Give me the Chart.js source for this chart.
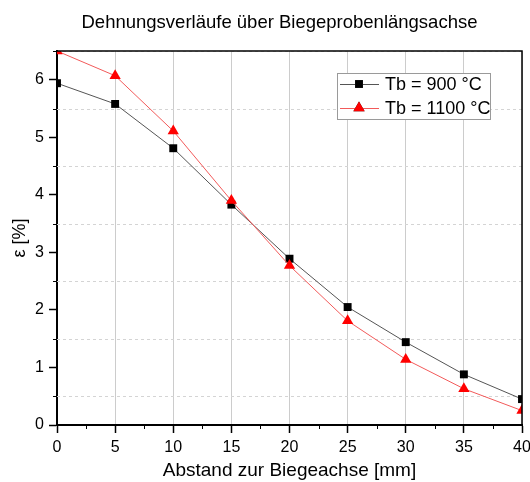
<!DOCTYPE html>
<html>
<head>
<meta charset="utf-8">
<script src="https://cdn.jsdelivr.net/npm/chart.js@4.4.0/dist/chart.umd.min.js"></script>
<style>
  html, body { margin: 0; padding: 0; background: #fff; }
</style>
</head>
<body>
<canvas id="strainChart" width="530" height="482"></canvas>
<script>
// Messpositionen entlang der Probe [mm]
const positions = [0, 5, 10, 15, 20, 25, 30, 35, 40];
// Dehnung [%] je Biegetemperatur
const strain900 = [5.94, 5.58, 4.81, 3.83, 2.89, 2.05, 1.44, 0.88, 0.45];
const strain1100 = [6.5, 6.07, 5.11, 3.90, 2.77, 1.81, 1.14, 0.63, 0.25];
const seriesLabels = ["Tb = 900 °C", "Tb = 1100 °C"];
const chartTitle = "Dehnungsverläufe über Biegeprobenlängsachse";

const xTickValues = [0, 5, 10, 15, 20, 25, 30, 35, 40];
const yTickValues = [0, 1, 2, 3, 4, 5, 6];

const FONT = "'Liberation Sans', Arial, sans-serif";

function toPoints(ys) {
  return positions.map((x, i) => ({ x: x, y: ys[i] }));
}

// Halbwert-Gitter, Nebenstriche, Rahmen, Titel und Legende
const decorations = {
  id: "decorations",
  beforeDatasetsDraw(chart) {
    const { ctx, chartArea: a, scales: { y } } = chart;
    ctx.save();
    ctx.strokeStyle = "#d4d4d4";
    ctx.lineWidth = 1;
    ctx.setLineDash([3, 3]);
    for (let i = 0; i < yTickValues.length; i++) {
      const v = yTickValues[i] + 0.5;
      if (v > y.max) break;
      const py = Math.round(y.getPixelForValue(v)) + 0.5;
      ctx.beginPath();
      ctx.moveTo(a.left, py);
      ctx.lineTo(a.right, py);
      ctx.stroke();
    }
    ctx.restore();
  },
  afterDraw(chart) {
    const { ctx, chartArea: a, scales: { x, y } } = chart;
    ctx.save();
    ctx.strokeStyle = "#000";
    ctx.lineWidth = 1;
    // kleine Striche zwischen den Hauptstrichen
    for (let i = 0; i < xTickValues.length - 1; i++) {
      const px = Math.round(x.getPixelForValue((xTickValues[i] + xTickValues[i + 1]) / 2)) + 0.5;
      ctx.beginPath();
      ctx.moveTo(px, a.bottom);
      ctx.lineTo(px, a.bottom + 4);
      ctx.stroke();
    }
    for (let i = 0; i < yTickValues.length; i++) {
      const v = yTickValues[i] + 0.5;
      if (v > y.max) break;
      const py = Math.round(y.getPixelForValue(v)) + 0.5;
      ctx.beginPath();
      ctx.moveTo(a.left - 4, py);
      ctx.lineTo(a.left, py);
      ctx.stroke();
    }
    // oberer und rechter Rahmen
    ctx.lineWidth = 1.5;
    ctx.beginPath();
    ctx.moveTo(a.left, a.top);
    ctx.lineTo(a.right, a.top);
    ctx.lineTo(a.right, a.bottom);
    ctx.stroke();

    // Titel, leicht links der Diagrammmitte
    ctx.fillStyle = "#000";
    ctx.font = "18.5px " + FONT;
    ctx.textAlign = "center";
    ctx.textBaseline = "alphabetic";
    ctx.fillText(chartTitle, (a.left + a.right) / 2 - 10, 28);

    // Legende
    const bx = a.right - 185, by = a.top + 22, bw = 153, bh = 46;
    ctx.fillStyle = "#fff";
    ctx.fillRect(bx, by, bw, bh);
    ctx.strokeStyle = "#9a9a9a";
    ctx.lineWidth = 1;
    ctx.strokeRect(bx + 0.5, by + 0.5, bw, bh);
    chart.data.datasets.forEach((ds, i) => {
      const cy = by + 11 + i * 24;
      ctx.strokeStyle = ds.borderColor;
      ctx.lineWidth = 1;
      ctx.beginPath();
      ctx.moveTo(bx + 3, cy + 0.5);
      ctx.lineTo(bx + 42, cy + 0.5);
      ctx.stroke();
      Chart.helpers.drawPoint(ctx, {
        pointStyle: ds.pointStyle,
        radius: ds.pointRadius,
        rotation: 0,
        borderWidth: 0
      }, bx + 22, cy);
      ctx.fillStyle = ds.pointBackgroundColor;
      ctx.fill();
      ctx.fillStyle = "#000";
      ctx.font = "18px " + FONT;
      ctx.textBaseline = "middle";
      ctx.textAlign = "left";
      ctx.fillText(ds.label, bx + 48, cy + 1);
    });
    ctx.restore();
  }
};

new Chart(document.getElementById("strainChart"), {
  type: "line",
  data: {
    datasets: [
      {
        label: seriesLabels[0],
        data: toPoints(strain900),
        borderColor: "#555555",
        borderWidth: 1,
        pointStyle: "rect",
        pointRadius: 5.6,
        pointBackgroundColor: "#000",
        pointBorderWidth: 0,
        clip: 0,
        order: 1
      },
      {
        label: seriesLabels[1],
        data: toPoints(strain1100),
        borderColor: "#f25a5a",
        borderWidth: 1,
        pointStyle: "triangle",
        pointRadius: 6.5,
        pointBackgroundColor: "#ff0000",
        pointBorderWidth: 0,
        clip: 0,
        order: 0
      }
    ]
  },
  options: {
    responsive: false,
    animation: false,
    devicePixelRatio: 1,
    layout: { padding: { top: 51, right: 0 } },
    plugins: {
      legend: { display: false },
      tooltip: { enabled: false },
      title: { display: false }
    },
    scales: {
      x: {
        type: "linear",
        min: 0,
        max: 40,
        afterFit(scale) {
          scale.height = 57;
          scale.paddingLeft = 0;
          scale.paddingRight = 8;
        },
        afterBuildTicks(scale) { scale.ticks = xTickValues.map(v => ({ value: v })); },
        grid: { color: "#cccccc", lineWidth: 1, tickColor: "#000", tickLength: 8, tickWidth: 1.5 },
        border: { color: "#000", width: 2 },
        ticks: { color: "#000", padding: 5, maxRotation: 0, font: { family: FONT, size: 16 } },
        title: {
          display: true,
          text: "Abstand zur Biegeachse [mm]",
          color: "#000",
          font: { family: FONT, size: 19 },
          padding: { top: 0, bottom: 0 }
        }
      },
      y: {
        type: "linear",
        min: 0,
        max: 6.5,
        afterFit(scale) { scale.width = 57; },
        afterBuildTicks(scale) { scale.ticks = yTickValues.map(v => ({ value: v })); },
        grid: { drawOnChartArea: false, tickColor: "#000", tickLength: 8, tickWidth: 1.5 },
        border: { color: "#000", width: 2 },
        ticks: { color: "#000", padding: 5, font: { family: FONT, size: 16 } },
        title: {
          display: true,
          text: "ε [%]",
          color: "#000",
          font: { family: FONT, size: 18 },
          padding: { top: 9, bottom: 0 }
        }
      }
    }
  },
  plugins: [decorations]
});
</script>
</body>
</html>
